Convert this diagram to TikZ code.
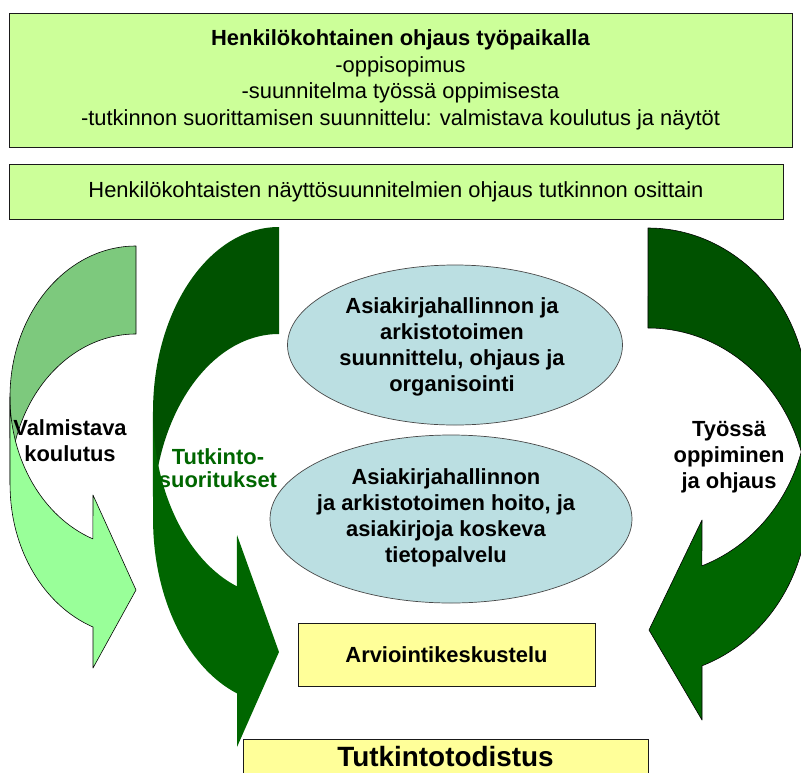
\documentclass[tikz,border=0pt]{standalone}
\usepackage{fontspec}
\setmainfont{Liberation Sans}
\usepackage{tikz}
\usetikzlibrary{shapes.geometric}
\definecolor{boxgreen}{HTML}{CCFF99}
\definecolor{boxyellow}{HTML}{FFFF99}
\definecolor{bubblebg}{HTML}{BBDFE2}
\definecolor{paleback}{HTML}{7DC97D}
\definecolor{palefront}{HTML}{99FF99}
\definecolor{darkback}{HTML}{005200}
\definecolor{darkfront}{HTML}{006600}
\definecolor{edge}{HTML}{1A1A1A}
\tikzset{
  greenbox/.style={draw=edge, fill=boxgreen, line width=0.7pt, inner sep=0pt},
  yellowbox/.style={draw=edge, fill=boxyellow, line width=0.7pt, inner sep=0pt},
  bubble/.style={ellipse, draw=edge!80, fill=bubblebg, line width=0.6pt, inner sep=0pt},
  lab/.style={font=\fontsize{18.7}{22.1}\selectfont\bfseries, align=center, inner sep=0pt},
  labn/.style={font=\fontsize{18.7}{22.7}\selectfont, align=center},
  band/.style={draw=black, line width=0.5pt, line join=round},
}

\begin{document}
\begin{tikzpicture}[x=0.03cm, y=0.03cm]
  \useasboundingbox (0,0) rectangle (801,-772);
  \clip (0,0) rectangle (801,-772);

  % curved arrows: back part first, front part on top
  \filldraw[band, fill=paleback] (136,-246)
    arc[start angle=90, end angle=180, x radius=3.78cm, y radius=4.53cm] -- (10,-485)
    arc[start angle=180, end angle=90, x radius=3.78cm, y radius=4.53cm] -- cycle;
  \filldraw[band, fill=palefront] (10,-397)
    arc[start angle=180, end angle=250, x radius=3.78cm, y radius=4.53cm]
    -- (93,-495) -- (136,-590) -- (93,-668) -- (93,-627)
    arc[start angle=250, end angle=180, x radius=3.78cm, y radius=4.53cm] -- cycle;

  \fill[darkback] (279,-227)
    arc[start angle=90, end angle=180, x radius=3.78cm, y radius=5.55cm] -- (153,-519)
    arc[start angle=180, end angle=90, x radius=3.78cm, y radius=5.55cm] -- cycle;
  \fill[darkfront] (153,-412)
    arc[start angle=180, end angle=250.5, x radius=3.78cm, y radius=5.55cm]
    -- (237,-535) -- (279,-652) -- (237,-747) -- (237,-693.4)
    arc[start angle=250.5, end angle=180, x radius=3.78cm, y radius=5.55cm] -- cycle;

  \filldraw[band, fill=darkback] (648,-228)
    arc[start angle=90, end angle=0, x radius=4.8cm, y radius=5.22cm] -- (808,-502)
    arc[start angle=0, end angle=90, x radius=4.8cm, y radius=5.22cm] -- cycle;
  \filldraw[band, fill=darkfront] (808,-402)
    arc[start angle=360, end angle=289.7, x radius=4.8cm, y radius=5.22cm]
    -- (702,-520) -- (649,-630) -- (702,-720) -- (702,-665.8)
    arc[start angle=289.7, end angle=360, x radius=4.8cm, y radius=5.22cm] -- cycle;

  \node[greenbox, labn, minimum width=23.49cm, minimum height=4.02cm] (guide) at (400.5,-80)
    {\textbf{Henkilökohtainen ohjaus työpaikalla}\\-oppisopimus\\-suunnitelma työssä oppimisesta\\-tutkinnon suorittamisen suunnittelu: valmistava koulutus ja näytöt};
  \node[greenbox, labn, minimum width=23.22cm, minimum height=1.65cm] (demos) at (396,-191.5)
    {Henkilökohtaisten näyttösuunnitelmien ohjaus tutkinnon osittain};

  \node[bubble, minimum width=10.05cm, minimum height=4.8cm] (plan) at (455,-345) {};
  \node[lab] (plantext) at (452,-347) {Asiakirjahallinnon ja\\arkistotoimen\\suunnittelu, ohjaus ja\\organisointi};
  \node[bubble, minimum width=10.86cm, minimum height=5.04cm] (care) at (451,-519) {};
  \node[lab] (caretext) at (446,-518) {Asiakirjahallinnon\\ja arkistotoimen hoito, ja\\asiakirjoja koskeva\\tietopalvelu};

  \node[yellowbox, lab, minimum width=8.91cm, minimum height=1.89cm] (talk) at (446.5,-654.5) {Arviointikeskustelu};
  \node[yellowbox, font=\fontsize{23.8}{28}\selectfont\bfseries, minimum width=12.15cm, minimum height=1.02cm] (cert) at (445.5,-756.5) {Tutkintotodistus};

  \node[lab] (prep) at (70,-441) {Valmistava\\koulutus};
  \node[lab, text=darkfront, font=\fontsize{18.7}{19.6}\selectfont\bfseries] (exam) at (218,-468) {Tutkinto-\\suoritukset};
  \node[lab] (work) at (729,-457) {Työssä\\oppiminen\\ja ohjaus};
\end{tikzpicture}
\end{document}
